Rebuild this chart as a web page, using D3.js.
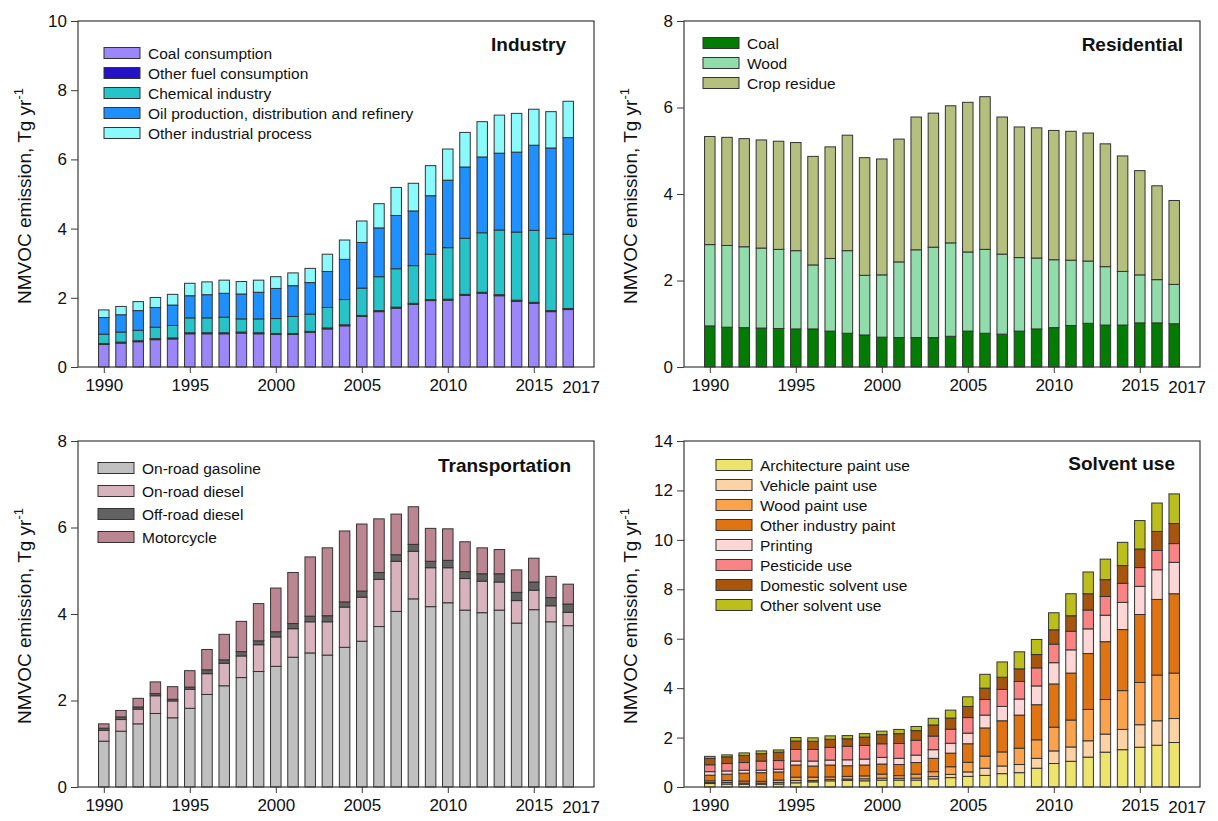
<!DOCTYPE html>
<html><head><meta charset="utf-8">
<script src="https://cdn.jsdelivr.net/npm/d3@7"></script>
<style>body{margin:0;background:#fff}svg{display:block}text{font-family:Arial,'Liberation Sans',sans-serif}</style>
</head><body>
<svg id="c" width="1218" height="821"></svg>
<script>
const years = [1990,1991,1992,1993,1994,1995,1996,1997,1998,1999,2000,2001,2002,2003,2004,2005,2006,2007,2008,2009,2010,2011,2012,2013,2014,2015,2016,2017];
const xTickYears = [1990,1995,2000,2005,2010,2015];
const lastLabel = "2017";

// Industry
const indCoal  = [0.65,0.69,0.73,0.79,0.81,0.96,0.96,0.96,0.98,0.96,0.94,0.94,1.00,1.10,1.19,1.46,1.60,1.70,1.81,1.92,1.93,2.07,2.13,2.06,1.90,1.84,1.60,1.66];
const indFuel  = [0.03,0.03,0.03,0.03,0.03,0.03,0.03,0.03,0.03,0.03,0.03,0.03,0.03,0.03,0.03,0.03,0.03,0.03,0.03,0.03,0.03,0.03,0.03,0.03,0.03,0.03,0.03,0.03];
const indChem  = [0.27,0.29,0.30,0.33,0.36,0.43,0.43,0.45,0.38,0.40,0.43,0.49,0.50,0.59,0.73,0.79,0.98,1.11,1.09,1.31,1.49,1.62,1.72,1.87,1.97,2.08,2.09,2.15];
const indOil   = [0.48,0.50,0.57,0.57,0.59,0.64,0.67,0.69,0.72,0.77,0.87,0.89,0.91,1.04,1.16,1.32,1.41,1.54,1.58,1.69,1.95,2.06,2.19,2.22,2.31,2.46,2.61,2.79];
const indOther = [0.22,0.24,0.26,0.29,0.31,0.36,0.37,0.38,0.36,0.35,0.34,0.37,0.41,0.50,0.56,0.62,0.70,0.81,0.80,0.87,0.90,1.00,1.02,1.10,1.12,1.04,1.05,1.05];

// Residential
const resCoal = [0.95,0.92,0.91,0.90,0.89,0.88,0.88,0.83,0.78,0.74,0.69,0.68,0.68,0.68,0.71,0.83,0.78,0.76,0.83,0.88,0.91,0.96,1.01,0.97,0.97,1.02,1.02,1.00];
const resWood = [1.88,1.89,1.87,1.85,1.83,1.81,1.48,1.68,1.91,1.38,1.44,1.75,2.03,2.09,2.16,1.83,1.94,1.85,1.70,1.64,1.57,1.51,1.44,1.35,1.24,1.11,1.00,0.91];
const resCrop = [2.50,2.50,2.50,2.50,2.50,2.50,2.51,2.58,2.67,2.72,2.68,2.84,3.07,3.10,3.17,3.46,3.53,3.17,3.02,3.01,2.99,2.98,2.96,2.84,2.67,2.41,2.17,1.94];

// Transportation
const trGas    = [1.06,1.29,1.46,1.70,1.60,1.82,2.14,2.34,2.53,2.67,2.79,3.00,3.10,3.05,3.23,3.37,3.71,4.06,4.35,4.17,4.26,4.09,4.03,4.09,3.79,4.10,3.82,3.73];
const trDiesel = [0.25,0.27,0.34,0.41,0.39,0.44,0.48,0.52,0.50,0.62,0.68,0.66,0.72,0.77,0.93,1.02,1.09,1.16,1.10,0.90,0.81,0.73,0.73,0.65,0.52,0.45,0.37,0.31];
const trOff    = [0.05,0.06,0.05,0.05,0.04,0.05,0.09,0.08,0.10,0.09,0.12,0.12,0.13,0.14,0.12,0.14,0.16,0.15,0.16,0.15,0.17,0.16,0.17,0.19,0.19,0.19,0.19,0.19];
const trMoto   = [0.10,0.15,0.20,0.27,0.29,0.38,0.47,0.59,0.70,0.86,1.01,1.18,1.37,1.57,1.64,1.55,1.24,0.94,0.87,0.76,0.73,0.69,0.60,0.56,0.52,0.55,0.49,0.46];

// Solvent use
const svArch  = [0.14,0.12,0.11,0.11,0.12,0.17,0.21,0.25,0.27,0.25,0.28,0.28,0.28,0.33,0.38,0.43,0.47,0.54,0.58,0.76,0.95,1.04,1.21,1.41,1.51,1.61,1.69,1.80];
const svVeh   = [0.04,0.06,0.05,0.05,0.06,0.09,0.05,0.06,0.05,0.08,0.08,0.07,0.08,0.09,0.13,0.18,0.29,0.31,0.33,0.40,0.51,0.58,0.66,0.73,0.82,0.91,0.99,0.97];
const svWood  = [0.07,0.08,0.08,0.07,0.10,0.14,0.14,0.10,0.11,0.12,0.16,0.11,0.16,0.20,0.31,0.39,0.49,0.57,0.66,0.75,0.96,1.09,1.27,1.40,1.57,1.71,1.85,1.84];
const svInd   = [0.23,0.26,0.32,0.35,0.33,0.49,0.45,0.48,0.43,0.44,0.41,0.45,0.47,0.54,0.55,0.75,1.14,1.26,1.34,1.42,1.75,1.90,2.26,2.34,2.47,2.75,3.06,3.21];
const svPrint = [0.14,0.13,0.12,0.10,0.11,0.16,0.20,0.20,0.24,0.24,0.27,0.25,0.30,0.35,0.40,0.43,0.52,0.58,0.65,0.76,0.86,0.94,1.00,1.07,1.10,1.14,1.20,1.27];
const svPest  = [0.28,0.30,0.31,0.37,0.35,0.47,0.47,0.51,0.55,0.55,0.55,0.60,0.60,0.55,0.57,0.63,0.63,0.69,0.71,0.73,0.75,0.75,0.76,0.76,0.77,0.76,0.78,0.76];
const svDom   = [0.26,0.27,0.29,0.30,0.34,0.34,0.33,0.33,0.30,0.34,0.37,0.40,0.39,0.45,0.45,0.45,0.46,0.49,0.51,0.54,0.58,0.63,0.66,0.68,0.72,0.75,0.77,0.81];
const svOther = [0.08,0.08,0.10,0.11,0.09,0.14,0.14,0.14,0.13,0.14,0.14,0.17,0.17,0.27,0.32,0.39,0.56,0.62,0.69,0.61,0.69,0.89,0.88,0.83,0.94,1.15,1.15,1.20];

const panels = [
  {title:"Industry", left:78, top:21, bottom:367, yMax:10, yTicks:[0,2,4,6,8,10],
   series:[["Coal consumption",indCoal,"#9b87fa"],["Other fuel consumption",indFuel,"#2412c8"],["Chemical industry",indChem,"#26c4c8"],["Oil production, distribution and refinery",indOil,"#1e90ff"],["Other industrial process",indOther,"#8afafc"]],
   legend:{x:104,y:53,dy:20,sw:36,fs:15.5}, titleX:566, titleY:51, ylabY:196, ylabX:31},
  {title:"Residential", left:684, top:21, bottom:367, yMax:8, yTicks:[0,2,4,6,8],
   series:[["Coal",resCoal,"#037c03"],["Wood",resWood,"#90dcaa"],["Crop residue",resCrop,"#b5bf7e"]],
   legend:{x:703,y:43,dy:20,sw:36,fs:15.5}, titleX:1183, titleY:51, ylabY:196, ylabX:637},
  {title:"Transportation", left:78, top:441, bottom:787, yMax:8, yTicks:[0,2,4,6,8],
   series:[["On-road gasoline",trGas,"#c0c0c0"],["On-road diesel",trDiesel,"#d8b3bd"],["Off-road diesel",trOff,"#626262"],["Motorcycle",trMoto,"#bb8691"]],
   legend:{x:98,y:468,dy:23,sw:36,fs:15.5}, titleX:571, titleY:472, ylabY:616, ylabX:31},
  {title:"Solvent use", left:684, top:441, bottom:787, yMax:14, yTicks:[0,2,4,6,8,10,12,14],
   series:[["Architecture paint use",svArch,"#ede46e"],["Vehicle paint use",svVeh,"#fdd3a6"],["Wood paint use",svWood,"#fba24c"],["Other industry paint",svInd,"#e07412"],["Printing",svPrint,"#fdd6d6"],["Pesticide use",svPest,"#fa8383"],["Domestic solvent use",svDom,"#a8550d"],["Other solvent use",svOther,"#bcbf1b"]],
   legend:{x:716,y:465,dy:20,sw:36,fs:15.5}, titleX:1175, titleY:470, ylabY:616, ylabX:637}
];

const svg = d3.select("#c");
const W = 516;
panels.forEach(p => {
  const g = svg.append("g");
  const x = d3.scaleLinear().domain([1988.5, 2018.5]).range([p.left, p.left + W]);
  const y = d3.scaleLinear().domain([0, p.yMax]).range([p.bottom, p.top]);
  const keys = p.series.map(s => s[0]);
  const rows = years.map((yr, i) => { const o = {year: yr}; p.series.forEach(s => o[s[0]] = s[1][i]); return o; });
  const stacked = d3.stack().keys(keys)(rows);
  const bw = x(1990.61) - x(1990);
  stacked.forEach((layer, li) => {
    g.append("g").selectAll("rect").data(layer).join("rect")
      .attr("x", d => x(d.data.year) - bw/2)
      .attr("y", d => y(d[1]))
      .attr("width", bw)
      .attr("height", d => Math.max(0, y(d[0]) - y(d[1])))
      .attr("fill", p.series[li][2])
      .attr("stroke", "#333").attr("stroke-width", 1);
  });
  // frame
  g.append("rect").attr("x", p.left).attr("y", p.top).attr("width", W).attr("height", p.bottom - p.top)
    .attr("fill", "none").attr("stroke", "#3a3a3a").attr("stroke-width", 1.2);
  // y axis
  const ya = g.append("g").attr("transform", `translate(${p.left},0)`)
    .call(d3.axisLeft(y).tickValues(p.yTicks).tickFormat(d3.format("d")).tickSize(7).tickPadding(4));
  ya.select(".domain").remove();
  ya.selectAll("line").attr("stroke", "#3a3a3a");
  ya.selectAll("text").attr("font-size", 17).attr("fill", "#111").attr("font-family", "Arial,'Liberation Sans',sans-serif");
  // x axis
  const xa = g.append("g").attr("transform", `translate(0,${p.bottom})`)
    .call(d3.axisBottom(x).tickValues(xTickYears).tickFormat(d3.format("d")).tickSize(6).tickPadding(6));
  xa.select(".domain").remove();
  xa.selectAll("line").attr("stroke", "#3a3a3a");
  xa.selectAll("text").attr("font-size", 17).attr("fill", "#111").attr("font-family", "Arial,'Liberation Sans',sans-serif");
  g.append("text").attr("x", x(2017.75)).attr("y", p.bottom + 26).attr("text-anchor", "middle")
    .attr("font-size", 17).attr("fill", "#111").text(lastLabel);
  // y label
  const yl = g.append("text").attr("transform", `translate(${p.ylabX},${p.ylabY}) rotate(-90)`)
    .attr("text-anchor", "middle").attr("font-size", 19).attr("fill", "#111");
  yl.append("tspan").text("NMVOC emission, Tg yr");
  yl.append("tspan").attr("dy", -8).attr("font-size", 13).text("-1");
  // title
  g.append("text").attr("x", p.titleX).attr("y", p.titleY).attr("text-anchor", "end")
    .attr("font-size", 19).attr("font-weight", "bold").attr("fill", "#111").text(p.title);
  // legend
  const L = p.legend;
  p.series.forEach((s, i) => {
    const cy = L.y + i * L.dy;
    g.append("rect").attr("x", L.x).attr("y", cy - 5.5).attr("width", L.sw).attr("height", 11)
      .attr("fill", s[2]).attr("stroke", "#333").attr("stroke-width", 1);
    g.append("text").attr("x", L.x + L.sw + 8).attr("y", cy + 5.5).attr("font-size", L.fs).attr("fill", "#111").text(s[0]);
  });
});
</script>
</body></html>
